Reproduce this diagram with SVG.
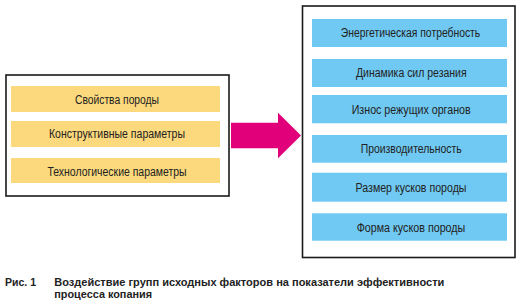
<svg xmlns="http://www.w3.org/2000/svg" width="521" height="307" viewBox="0 0 521 307">
<style>
.frame{fill:#fff;stroke:#1a1a1a;stroke-width:1.6}
.y{fill:#fcd97c}
.b{fill:#70c9f2}
.t{font-family:"Liberation Sans Narrow","Liberation Sans",Arial,sans-serif;font-size:12px;fill:#222;text-anchor:middle}
.cap{font-family:"Liberation Sans Narrow","Liberation Sans",Arial,sans-serif;font-size:11px;font-weight:bold;fill:#222}
</style>
<rect width="521" height="307" fill="#fff"/>
<g id="left-group">
<rect class="frame" x="6" y="75" width="223" height="121"/>
<g id="n-svoistva"><rect class="y" x="11" y="86" width="209" height="26"/><text class="t" x="117" y="103.8" textLength="84" lengthAdjust="spacingAndGlyphs">Свойства породы</text></g>
<g id="n-konstr"><rect class="y" x="11" y="121" width="209" height="26"/><text class="t" x="117" y="138.3" textLength="136" lengthAdjust="spacingAndGlyphs">Конструктивные параметры</text></g>
<g id="n-tehn"><rect class="y" x="11" y="158" width="209" height="25"/><text class="t" x="117" y="175.5" textLength="139" lengthAdjust="spacingAndGlyphs">Технологические параметры</text></g>
</g>
<g id="connectors">
<polygon points="231,122.7 278,122.7 278,112.7 301,135.5 278,158.3 278,148.3 231,148.3" fill="#e2007a"/>
</g>
<g id="right-group">
<rect class="frame" x="302.5" y="6" width="212.5" height="251.5"/>
<g id="n-energ"><rect class="b" x="312" y="19" width="195" height="28"/><text class="t" x="410.5" y="37.3" textLength="139.5" lengthAdjust="spacingAndGlyphs">Энергетическая потребность</text></g>
<g id="n-dinam"><rect class="b" x="312" y="59" width="195" height="28"/><text class="t" x="411.3" y="77.3" textLength="110.7" lengthAdjust="spacingAndGlyphs">Динамика сил резания</text></g>
<g id="n-iznos"><rect class="b" x="312" y="95" width="195" height="28.3"/><text class="t" x="411.2" y="113.5" textLength="119" lengthAdjust="spacingAndGlyphs">Износ режущих органов</text></g>
<g id="n-proizv"><rect class="b" x="312" y="135" width="195" height="27.7"/><text class="t" x="411.2" y="153.3" textLength="101" lengthAdjust="spacingAndGlyphs">Производительность</text></g>
<g id="n-razmer"><rect class="b" x="312" y="172.7" width="195" height="29"/><text class="t" x="411" y="191.5" textLength="111" lengthAdjust="spacingAndGlyphs">Размер кусков породы</text></g>
<g id="n-forma"><rect class="b" x="312" y="213.3" width="195" height="27.4"/><text class="t" x="411" y="231.5" textLength="108.6" lengthAdjust="spacingAndGlyphs">Форма кусков породы</text></g>
</g>
<g id="caption">
<text class="cap" x="5" y="285.5" textLength="31" lengthAdjust="spacingAndGlyphs">Рис. 1</text>
<text class="cap" x="54.3" y="285.5" textLength="390" lengthAdjust="spacingAndGlyphs">Воздействие групп исходных факторов на показатели эффективности</text>
<text class="cap" x="54.3" y="298" textLength="97.7" lengthAdjust="spacingAndGlyphs">процесса копания</text>
</g>
</svg>
